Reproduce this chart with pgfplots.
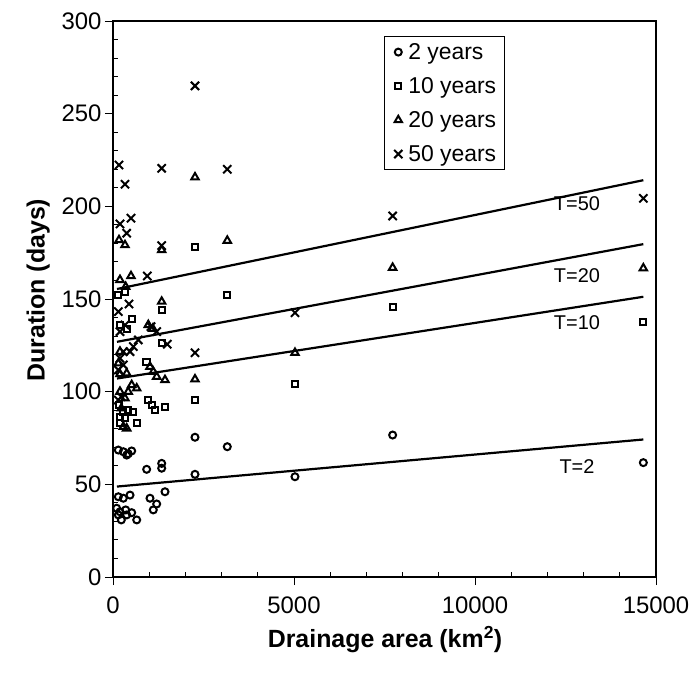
\documentclass[border=0pt]{standalone}
\usepackage{pgfplots}
\pgfplotsset{compat=1.18}
\usepackage{fontspec}
\setmainfont{Liberation Sans}

\pgfplotsset{
  frame/.style={
    at={(113bp,100bp)}, anchor=south west,
    scale only axis, width=543bp, height=556bp,
    xmin=0, xmax=15000, ymin=0, ymax=300,
    xtick pos=bottom, ytick pos=left,
    scaled x ticks=false, scaled y ticks=false,
  },
  pt/.style={only marks, black, line width=2bp,
    mark options={solid, line width=2bp}},
}

\begin{document}
\begin{tikzpicture}
\path[use as bounding box] (0,0) rectangle (693bp,677bp);

% inward minor ticks
\begin{axis}[frame,
  axis line style={draw=none},
  xtick={1000,2000,3000,4000,6000,7000,8000,9000,11000,12000,13000,14000},
  ytick={10,20,30,40,60,70,80,90,110,120,130,140,160,170,180,190,210,220,230,240,260,270,280,290},
  xticklabels={}, yticklabels={},
  tick align=inside, major tick length=5bp,
  tick style={black, line width=0.9bp},
]
\end{axis}

\begin{axis}[frame,
  xtick={0,5000,10000,15000},
  ytick={0,50,...,300},
  tick align=outside,
  major tick length=8bp,
  tick style={black, line width=0.9bp},
  axis line style={line width=2.1bp},
  /pgf/number format/set thousands separator={},
  /pgf/number format/assume math mode=true,
  ticklabel style={font=\fontsize{24}{28}\selectfont},
  xticklabel style={yshift=-8bp},
  xlabel={\textbf{Drainage area (km\textsuperscript{2})}},
  ylabel={\textbf{Duration (days)}},
  label style={font=\fontsize{25}{30}\selectfont},
  xlabel style={at={(axis description cs:0.501,-0.113)}, anchor=center},
  ylabel style={at={(axis description cs:-0.138,0.516)}, anchor=center},
  legend style={at={(0.499,0.973)}, anchor=north west,
    font=\fontsize{23}{27}\selectfont, draw=black, line width=0.7bp,
    inner xsep=6bp, inner ysep=5bp, row sep=12.5bp},
  legend cell align=left,
  legend image code/.code={%
    \path (-7bp,0bp) (7bp,0bp);
    \draw[#1] plot coordinates {(0bp,0bp)};},
]
% return period 2 years
\addplot[pt, mark=o, mark size=3.5bp] coordinates {
 (100,37.1) (147,43.3) (147,33.5) (147,68.5) (193,35.2) (230,30.8)
 (285,67.6) (285,42.5) (350,36.2) (378,65.8) (378,33.5) (420,66.5)
 (470,44.2) (516,68.0) (516,34.7) (655,30.8) (930,58.1) (1022,42.5)
 (1113,36.2) (1207,39.4) (1345,61.3) (1345,58.7) (1436,46.0)
 (2265,75.4) (2265,55.4) (3157,70.3) (5027,54.1) (7725,76.6) (14650,61.7)};
\addlegendentry{2 years}
% return period 10 years
\addplot[pt, mark=square, mark size=3.1bp] coordinates {
 (147,152.2) (331,154.0) (1345,144.1) (1356,126.1) (516,139.0) (193,136.0)
 (378,133.7) (166,92.8) (928,116.2) (975,95.5) (1068,92.8) (1160,90.1)
 (1436,91.9) (285,89.2) (420,90.1) (560,89.2) (193,86.5) (331,85.6)
 (655,82.9) (193,82.9) (2265,177.9) (2265,95.5) (3157,152.2)
 (5027,104.0) (7725,145.5) (14650,137.8)};
\addlegendentry{10 years}
% return period 20 years
\addplot[pt, mark=triangle, mark size=4.3bp] coordinates {
 (166,181.8) (331,179.1) (1345,176.4) (193,160.3) (497,162.4) (350,156.6)
 (1345,148.6) (975,136.0) (1100,134.0) (193,121.6) (147,115.3) (1022,113.5)
 (193,109.5) (378,109.9) (1113,110.8) (1207,108.1) (1436,106.3)
 (516,103.6) (655,101.8) (420,100.0) (193,100.0) (331,96.4) (230,91.0)
 (285,81.1) (378,80.2)
 (2265,215.7) (2265,106.7) (3157,181.5) (5027,121.0) (7725,166.9) (14650,166.6)};
\addlegendentry{20 years}
% return period 50 years
\addplot[pt, mark=x, mark size=5.8bp] coordinates {
 (166,222.3) (1345,220.5) (331,211.9) (193,190.5) (497,193.6) (378,185.5)
 (1345,178.8) (948,162.4) (147,143.2) (442,147.3) (331,136.0) (193,132.4)
 (1050,135.1) (1207,132.4) (1500,125.6) (699,127.9) (561,124.3) (470,121.6)
 (285,121.6) (193,118.0) (285,114.4) (147,111.7) (230,97.3) (147,95.5)
 (2265,265.0) (2265,121.0) (3157,220.0) (5027,142.6) (7725,194.8) (14650,204.3)};
\addlegendentry{50 years}

% fitted lines
\addplot[black, line width=2.2bp, forget plot] coordinates {(110,48.8) (14650,74.2)};
\addplot[black, line width=2.2bp, forget plot] coordinates {(110,107.1) (14650,151.2)};
\addplot[black, line width=2.2bp, forget plot] coordinates {(110,126.9) (14650,179.6)};
\addplot[black, line width=2.2bp, forget plot] coordinates {(110,155.4) (14650,214.1)};

\begin{scope}[every node/.style={font=\fontsize{20}{24}\selectfont, anchor=center}]
\node at (axis cs:12816,201.3) {T=50};
\node at (axis cs:12816,162.6) {T=20};
\node at (axis cs:12816,137.1) {T=10};
\node at (axis cs:12816,59.5) {T=2};
\end{scope}
\end{axis}
\end{tikzpicture}
\end{document}
